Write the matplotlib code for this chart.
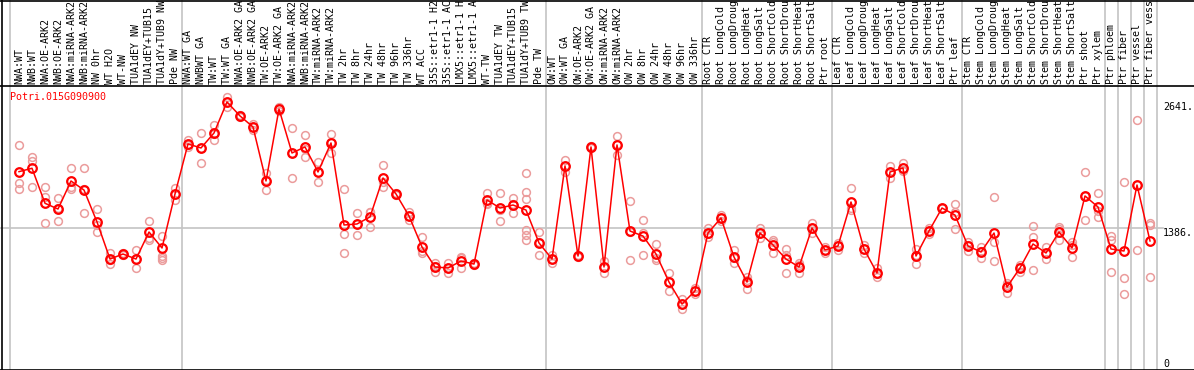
import matplotlib
matplotlib.use('Agg')
import matplotlib.pyplot as plt
import numpy as np
from matplotlib.transforms import blended_transform_factory
from matplotlib.lines import Line2D

gene_id = "Potri.015G090900"

samples = [
    "NWA:WT", "NWB:WT", "NWA:OE-ARK2", "NWB:OE-ARK2", "NWA:miRNA-ARK2", "NWB:miRNA-ARK2",
    "NW 0hr", "WT H2O", "WT-NW", "TUA1dEY NW", "TUA1dEY+TUB15", "TUA1dY+TUB9 NW", "Pde NW",
    "NWA:WT GA", "NWBWT GA", "TW:WT", "TW:WT GA", "NWA:OE-ARK2 GA", "NWB:OE-ARK2 GA",
    "TW:OE-ARK2", "TW:OE-ARK2 GA", "NWA:miRNA-ARK2", "NWB:miRNA-ARK2", "TW:miRNA-ARK2",
    "TW:miRNA-ARK2", "TW 2hr", "TW 8hr", "TW 24hr", "TW 48hr", "TW 96hr", "TW 336hr",
    "WT ACC", "35S::etr1-1 H2", "35S::etr1-1 AC", "LMX5::etr1-1 H", "LMX5::etr1-1 A",
    "WT-TW", "TUA1dEY TW", "TUA1dEY+TUB15", "TUA1dY+TUB9 TW", "Pde TW",
    "OW:WT", "OW:WT GA", "OW:OE-ARK2", "OW:OE-ARK2 GA", "OW:miRNA-ARK2", "OW:miRNA-ARK2",
    "OW 2hr", "OW 8hr", "OW 24hr", "OW 48hr", "OW 96hr", "OW 336hr",
    "Root CTR", "Root LongCold", "Root LongDroug", "Root LongHeat", "Root LongSalt",
    "Root ShortCold", "Root ShortDrou", "Root ShortHeat", "Root ShortSalt", "Ptr root",
    "Leaf CTR", "Leaf LongCold", "Leaf LongDroug", "Leaf LongHeat", "Leaf LongSalt",
    "Leaf ShortCold", "Leaf ShortDrou", "Leaf ShortHeat", "Leaf ShortSalt", "Ptr leaf",
    "Stem CTR", "Stem LongCold", "Stem LongDroug", "Stem LongHeat", "Stem LongSalt",
    "Stem ShortCold", "Stem ShortDrou", "Stem ShortHeat", "Stem ShortSalt", "Ptr shoot",
    "Ptr xylem", "Ptr phloem", "Ptr fiber", "Ptr vessel", "Ptr fiber vess",
]

group_sizes = [13, 28, 12, 10, 10, 11, 1, 1, 1, 1]

means = [
    1947, 1981, 1632, 1575, 1854, 1764, 1446, 1077, 1127, 1077, 1346, 1187, 1725,
    2223, 2183, 2332, 2641, 2502, 2392, 1854, 2571, 2133, 2193, 1944, 2233,
    1416, 1426, 1496, 1884, 1725, 1506, 1197, 998, 988, 1057, 1027,
    1665, 1585, 1615, 1565, 1237,
    1077, 2004, 1107, 2193, 998, 2213, 1356, 1306, 1127, 848, 629, 759,
    1336, 1486, 1097, 848, 1336, 1217, 1077, 998, 1386, 1167,
    1207, 1645, 1177, 938, 1944, 1984, 1107, 1356, 1585, 1515,
    1207, 1147, 1336, 798, 988, 1227, 1137, 1346, 1187, 1705, 1595,
    1177, 1157, 1814, 1257,
]

replicates = [
    [2213, 1834, 1775], [2096, 2053, 1797], [1794, 1695, 1436], [1685, 1456, 1585],
    [1984, 1794, 1775], [1984, 1536, 1772], [1575, 1416, 1346], [1137, 1028, 1067],
    [1117, 1137, 1127], [1167, 988, 1077], [1456, 1287, 1267], [1306, 1107, 1067, 1087],
    [1785, 1665, 1725],
    [2263, 2193, 2213], [2332, 2034, 2183], [2412, 2263, 2322], [2691, 2591, 2641],
    [2502, 2510, 2495], [2422, 2362, 2392], [1934, 1765, 1863], [2591, 2551, 2571],
    [2382, 1884, 2133], [2312, 2093, 2173], [2043, 1844, 1944], [2322, 2133, 2243],
    [1775, 1326, 1137], [1536, 1316, 1426], [1545, 1396, 1545], [2014, 1794, 1844],
    [1725, 1735, 1715], [1545, 1466, 1506], [1296, 1137, 1157], [1038, 948, 1008],
    [1038, 938, 988], [1097, 988, 1087], [1028, 1038, 1018],
    [1735, 1625, 1635], [1735, 1456, 1565], [1685, 1536, 1625],
    [1934, 1745, 1675, 1366, 1316, 1267], [1346, 1117, 1247],
    [1038, 1077, 1117], [2063, 1944, 2004], [1107, 1117, 1097], [2193, 2203, 2183],
    [1057, 938, 998], [2302, 2113, 2223], [1655, 1067, 1346], [1466, 1117, 1336],
    [1227, 1087, 1067], [938, 759, 848], [679, 579, 629], [789, 729, 759],
    [1386, 1296, 1326], [1516, 1486, 1456], [1167, 1038, 1087], [898, 779, 868],
    [1386, 1287, 1336], [1267, 1137, 1247], [1177, 938, 1117], [1038, 938, 1018],
    [1436, 1386, 1336], [1167, 1137, 1197],
    [1237, 1167, 1217], [1785, 1585, 1565], [1137, 1177, 1217], [988, 898, 928],
    [2004, 1884, 1944], [2034, 1964, 1954], [1177, 1028, 1117], [1326, 1356, 1386],
    [1585, 1585, 1585], [1625, 1376, 1545],
    [1247, 1157, 1217], [1197, 1087, 1157], [1695, 1247, 1057], [838, 739, 818],
    [1018, 948, 998], [1406, 1296, 968], [1197, 1077, 1137], [1396, 1267, 1376],
    [1247, 1097, 1217], [1944, 1466, 1705], [1735, 1496, 1555],
    [1306, 1267, 948], [1844, 888, 729], [2462, 1167, 1814], [1433, 1416, 901],
]

ref_values = [0, 1386, 2641]
ref_labels = ["0", "1386.", "2641."]

# ---------------------------------------------------------------- layout
W, H = 1194, 370
fig = plt.figure(figsize=(W / 100, H / 100), dpi=100)
fig.patch.set_facecolor('white')
top_px = 86
ax = fig.add_axes([0, 0, 1, (H - top_px) / H])
step = 13.0
x0 = 19.0
ax.set_xlim(-x0 / step, (W - x0) / step)
ax.set_ylim(-28, 2800)
ax.axis('off')

mono = 'DejaVu Sans Mono'
fs = 7.2
grey = '#c4c4c4'
rep_col = '#eb9c9c'

xfig = blended_transform_factory(ax.transData, fig.transFigure)

# group separators
bounds = np.cumsum(group_sizes) - 0.5
sep_x = [(10 - x0) / step] + list(bounds)
for b in sep_x:
    fig.add_artist(Line2D([b, b], [0, 1], transform=xfig, color=grey, lw=1.2, zorder=-5))

# horizontal reference line
x_lab = (1163 - x0) / step
ax.plot([ax.get_xlim()[0], x_lab], [ref_values[1], ref_values[1]], color=grey, lw=1.2, zorder=0)

x = np.arange(len(samples))
for i, reps in enumerate(replicates):
    ax.plot([x[i]] * len(reps), reps, 'o', ms=5.6, mfc='none', mec=rep_col, mew=1.1, zorder=2)
ax.plot(x, means, '-', color='red', lw=1.1, zorder=3)
ax.plot(x, means, 'o', ms=6.2, mfc='none', mec='red', mew=1.6, zorder=4)

# right-side value labels
for v, t in zip(ref_values, ref_labels):
    ax.text(x_lab, v, t, ha='left', va=('baseline' if v == 0 else 'top'),
            family=mono, fontsize=fs, color='black', zorder=5)

# sample labels (rotated)
for i, s in enumerate(samples):
    fig.text(x[i], (H - 84) / H, s, transform=xfig, rotation=90, ha='center', va='bottom',
             family=mono, fontsize=fs, color='black')

fig.text(10 / W, 1 - 92 / H, gene_id, ha='left', va='top', family=mono, fontsize=fs, color='red')

# borders
for xs, ys in [([1.5 / W, 1.5 / W], [0, 1]), ([0, 1], [1 - 0.5 / H, 1 - 0.5 / H]),
               ([0, 1], [1 - top_px / H, 1 - top_px / H]), ([0, 1], [0.5 / H, 0.5 / H])]:
    fig.add_artist(Line2D(xs, ys, transform=fig.transFigure, color='black', lw=1.2))

fig.savefig('out.png', dpi=100)
